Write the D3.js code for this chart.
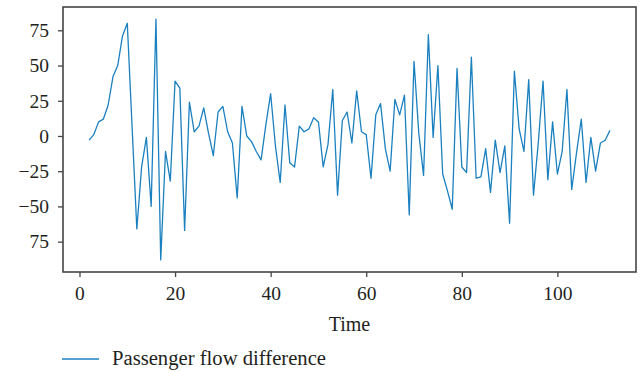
<!DOCTYPE html>
<html>
<head>
<meta charset="utf-8">
<script src="https://cdn.jsdelivr.net/npm/d3@7"></script>
<style>
  html, body { margin: 0; padding: 0; background: #fff; }
  svg { display: block; }
  text { font-family: "Liberation Serif", "DejaVu Serif", serif; fill: #231f20; }
</style>
</head>
<body>
<svg id="chart" width="641" height="372"></svg>
<script>
// Time steps (2 … 111)
const timeSteps = d3.range(2, 112);

// Passenger flow difference at each time step
const flowDiff = [
  -3, 1, 10, 12, 22, 42, 50, 71, 80, 7,
  -66, -22, -1, -50, 83, -88, -11, -32, 39, 34,
  -67, 24, 3, 7, 20, 2, -14, 17, 21, 3,
  -5, -44, 21, 0, -4, -11, -17, 8, 30, -7,
  -33, 22, -19, -22, 7, 3, 5, 13, 10, -22,
  -6, 33, -42, 11, 17, -5, 32, 3, 1, -30,
  15, 23, -9, -25, 26, 15, 29, -56, 53, 2,
  -28, 72, -1, 50, -27, -39, -52, 48, -22, -26,
  56, -30, -29, -9, -40, -3, -26, -7, -62, 46,
  5, -11, 40, -42, -5, 39, -31, 10, -27, -11,
  33, -38, -12, 12, -33, -1, -25, -5, -3, 4
];

const xTicks = [0, 20, 40, 60, 80, 100];
const yTicks = [75, 50, 25, 0, -25, -50, -75];
const yTickLabels = ["75", "50", "25", "0", "\u221225", "\u221250", "75"];

const seriesName = "Passenger flow difference";
const xTitle = "Time";

const svg = d3.select("#chart");
const m = { left: 63, right: 636, top: 7, bottom: 272 };
const lineColor = "#1b80c0";
const axisColor = "#454545";

const points = timeSteps.map((t, i) => ({ t, v: flowDiff[i] }));

// matplotlib-style 5% padding around the data extent
const xExt = d3.extent(timeSteps), yExt = d3.extent(flowDiff);
const xPad = (xExt[1] - xExt[0]) * 0.05, yPad = (yExt[1] - yExt[0]) * 0.05;

const x = d3.scaleLinear().domain([xExt[0] - xPad, xExt[1] + xPad]).range([m.left, m.right]);
const y = d3.scaleLinear().domain([yExt[0] - yPad, yExt[1] + yPad]).range([m.bottom, m.top]);

// series line
svg.append("path")
  .datum(points)
  .attr("fill", "none")
  .attr("stroke", lineColor)
  .attr("stroke-width", 1.3)
  .attr("stroke-linejoin", "round")
  .attr("d", d3.line().x(d => x(d.t)).y(d => y(d.v)));

// axes
const xAxis = svg.append("g")
  .attr("transform", `translate(0,${m.bottom})`)
  .call(d3.axisBottom(x).tickValues(xTicks).tickSize(5).tickPadding(9).tickFormat(d3.format("d")));
const yAxis = svg.append("g")
  .attr("transform", `translate(${m.left},0)`)
  .call(d3.axisLeft(y).tickValues(yTicks).tickSize(5).tickPadding(9).tickFormat((d, i) => yTickLabels[i]));

[xAxis, yAxis].forEach(g => {
  g.select(".domain").remove();
  g.selectAll(".tick line").attr("stroke", axisColor).attr("stroke-width", 1.3);
  g.selectAll(".tick text").attr("font-size", 19.5).attr("fill", "#231f20")
    .style("font-family", "'Liberation Serif', 'DejaVu Serif', serif");
});

// frame
svg.append("rect")
  .attr("x", m.left).attr("y", m.top)
  .attr("width", m.right - m.left).attr("height", m.bottom - m.top)
  .attr("fill", "none").attr("stroke", axisColor).attr("stroke-width", 1.6);

// x axis title
svg.append("text")
  .attr("x", (m.left + m.right) / 2).attr("y", 331)
  .attr("text-anchor", "middle").attr("font-size", 20)
  .text(xTitle);

// legend
svg.append("line")
  .attr("x1", 62).attr("x2", 99).attr("y1", 359).attr("y2", 359)
  .attr("stroke", lineColor).attr("stroke-width", 1.3);
svg.append("text")
  .attr("x", 112).attr("y", 365).attr("font-size", 20)
  .attr("textLength", 214).attr("lengthAdjust", "spacingAndGlyphs")
  .text(seriesName);
</script>
</body>
</html>
